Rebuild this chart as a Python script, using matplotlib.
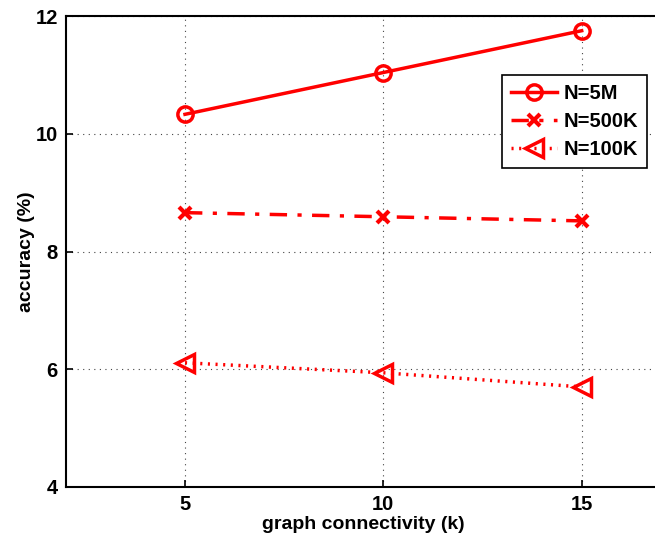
import numpy as np
import matplotlib.pyplot as plt

plt.rcParams['font.family'] = ['Liberation Sans', 'DejaVu Sans']
plt.rcParams['font.weight'] = 'bold'

k = [5, 10, 15]
acc_5m = [10.33, 11.04, 11.75]
acc_500k = [8.66, 8.59, 8.52]
acc_100k = [6.11, 5.94, 5.70]

fig = plt.figure(figsize=(6.55, 5.37), dpi=100)
ax = fig.add_axes([66/655, 1 - 487/537, (661 - 66)/655, (487 - 16)/537])

ax.plot(k, acc_5m, '-o', color='r', lw=2.5, ms=11, mfc='none', mew=2.5, label='N=5M')
ax.plot(k, acc_500k, '-.x', color='r', lw=2.5, ms=8, mew=3, label='N=500K',
        dashes=(5, 3, 1.2, 3))
ax.plot(k, acc_100k, ':<', color='r', lw=2.5, ms=13, mfc='none', mew=2.5, label='N=100K',
        dashes=(0.6, 1.6))

ax.set_xlim(2, 17)
ax.set_ylim(4, 12)
ax.set_xticks([5, 10, 15])
ax.set_yticks([4, 6, 8, 10, 12])
ax.grid(True, color='#444444', lw=0.8, dashes=(1, 4))
ax.tick_params(direction='in', labelsize=14.5, width=1.2, length=5, pad=6)
for s in ax.spines.values():
    s.set_linewidth(1.5)
ax.set_xlabel('graph connectivity (k)', fontsize=14, fontweight='bold', labelpad=1)
ax.set_ylabel('accuracy (%)', fontsize=14, fontweight='bold', labelpad=0)

leg = ax.legend(loc='upper right', bbox_to_anchor=((647 - 66)/595, 1 - (75 - 16)/471),
                fontsize=14.5, fancybox=False, edgecolor='k', framealpha=1,
                handlelength=2.3, handletextpad=0.3, borderaxespad=0,
                borderpad=0.45, labelspacing=0.45)
leg.get_frame().set_linewidth(1.2)

plt.savefig('out.png')
